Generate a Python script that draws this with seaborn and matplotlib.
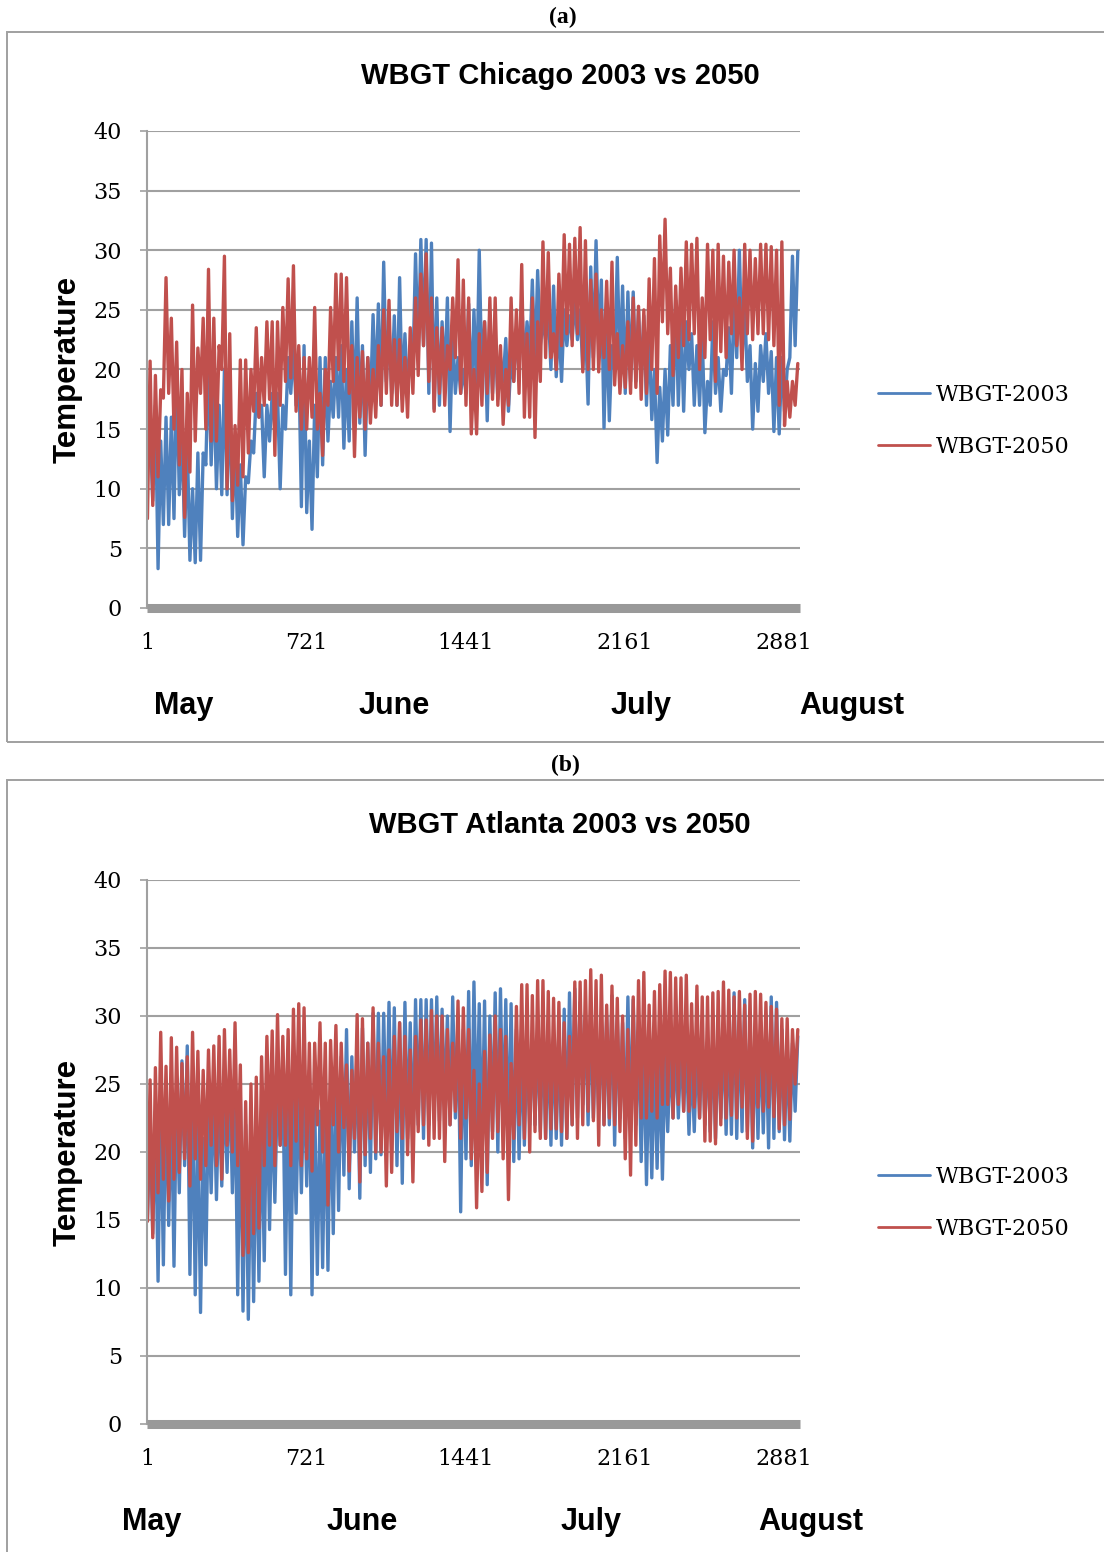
import numpy as np
import pandas as pd
import matplotlib.pyplot as plt
import seaborn as sns
from matplotlib.patches import Rectangle
from matplotlib.lines import Line2D

# daily highs / lows (one pair per day, May 1 - Aug 31)
chi03_hi = [15, 17, 14, 16, 16, 20, 15, 14, 10, 13,
            13, 21, 19, 17, 20, 18, 14, 12, 11, 14,
            18, 17, 17, 18, 18, 17, 21, 22, 21, 22,
            14, 17, 21, 21, 19, 21, 22, 20, 24, 26,
            22, 21, 24.6, 25.5, 29, 24, 24.5, 27.7, 23, 22,
            29.7, 30.9, 30.9, 30.6, 26, 24, 26, 23, 21, 20,
            25.5,
            25, 30, 24, 24.5, 23, 21, 22.6, 21, 23, 26,
            24, 27.5, 28.3, 24, 25, 27, 24, 25, 24.5, 26,
            25, 24, 28.6, 30.8, 27.5, 24, 22, 29.4, 27, 26.5,
            26.5, 25, 24.5, 23, 20, 18.5, 20, 22, 25.8, 24,
            24, 23, 22, 23, 19, 24, 21, 20, 23.5, 26,
            30, 25.5, 22, 20.5, 22, 23, 21.5, 21, 21, 20, 29.5, 29.9]
chi03_lo = [12, 9, 3.3, 7, 7, 7.5, 9.5, 6, 4, 3.8,
            4, 12, 12, 10, 9.5, 9.5, 7.5, 6, 5.3, 10.5,
            13, 16, 11, 14, 15, 10, 15, 18, 17, 8.5,
            8, 6.6, 11, 12, 14, 16, 16, 13.4, 14, 16,
            15.5, 12.8, 17, 18, 17, 19, 18, 17, 17.5, 18,
            20, 21, 22, 18, 16.7, 17, 19, 14.8, 18, 18,
            18,
            17.3, 18, 19, 15.7, 18, 17.5, 19, 16.5, 19, 20,
            20, 21, 20, 22, 22.5, 20, 19.4, 19, 22, 22.5,
            22.5, 20, 17.1, 21, 22, 15.1, 15.7, 20, 20, 18,
            19, 19, 19, 17, 15.8, 12.2, 14, 14.5, 17, 17,
            16.5, 20, 17, 17, 14.7, 17, 18, 16.5, 19.5, 18,
            21, 21, 19, 15, 16.5, 19, 18, 14.8, 14.6, 16.5, 21, 22]
chi50_hi = [20.7, 19.5, 18.3, 27.7, 24.3, 22.3, 20, 18, 25.4, 21.8,
            24.3, 28.4, 24.3, 22, 29.5, 23, 15.3, 20.8, 20.8, 20,
            23.5, 21, 24, 24, 24, 25.2, 27.6, 28.7, 22, 21,
            21, 25.2, 18, 20, 25.2, 28, 28, 27.7, 22, 21,
            21.5, 21, 20, 22, 25, 25.8, 22.5, 22.5, 21, 23.5,
            26, 28, 29.7, 26, 23.5, 23.5, 22, 26, 29.2, 27.5,
            26,
            20, 23, 24, 26, 26, 22, 20, 26, 25, 28.8,
            23, 26, 24, 30.7, 29.8, 23, 28, 31.3, 30.5, 31,
            31.9, 30.8, 27.5, 28, 25, 27.4, 29, 23, 22, 24,
            26, 25.3, 25, 27.6, 29.3, 31.2, 32.6, 28.5, 27, 28.5,
            30.7, 30.5, 31, 26, 30.5, 30, 30.5, 29.5, 29, 30,
            26, 30.5, 30, 29.3, 30.5, 30.5, 30.3, 30, 30.7, 19, 19, 20.5]
chi50_lo = [7.5, 8.6, 11, 17.6, 18, 15, 12, 7.6, 11.4, 14,
            18, 15, 14, 14, 20, 10, 9, 10.3, 11, 13,
            16.5, 16, 17, 17.5, 12.8, 17, 19, 19.3, 16.5, 15,
            15, 16, 15, 12.8, 17, 19, 20, 19, 18, 12.7,
            16, 15, 15.5, 16, 17, 18, 17, 17, 16.5, 16,
            18, 19.5, 22, 19, 16.5, 18, 17, 20, 21, 18,
            17,
            14.6, 14.6, 17, 18, 17.5, 17, 15.4, 17, 19, 18,
            16, 16, 14.3, 19, 21, 21, 20, 22, 23, 22,
            23, 19.8, 20, 20, 19.8, 21, 20, 18.7, 18, 18.5,
            18, 18.5, 17.5, 18, 20, 18, 24, 23, 19.5, 21,
            22, 22.5, 23, 20, 21, 22.5, 19, 21.5, 21, 23,
            22, 20, 23, 22.5, 23, 23, 22.5, 22, 17, 15.3, 16, 17]

atl03_hi = [22, 23, 24, 25, 24, 25, 26.7, 27.8, 25, 22,
            21, 24, 25, 25, 25, 26, 25, 24, 22, 21,
            22, 23, 25, 24, 25, 26, 25, 24, 25, 26,
            26, 24, 23, 24, 25, 26, 27, 29, 27, 28,
            29.1, 28, 30.2, 30.2, 30.2, 31, 30.6, 29.5, 31, 29.5,
            31.2, 31.2, 31.2, 31.2, 31.4, 30.5, 30, 31.4, 30, 29,
            31.8,
            32.5, 30.9, 31.1, 30, 31.7, 32, 31.2, 30.9, 29, 28,
            28, 28.5, 29, 29, 28.5, 28.5, 29, 30.5, 31.7, 32,
            31, 30, 30.5, 29, 29.5, 30, 31.5, 30, 29.5, 31.4,
            31.2, 29, 28, 27, 27, 27, 27, 27.5, 28, 28,
            28, 27, 28, 28.5, 28, 28.5, 28.5, 29, 29, 31.7,
            30, 31.2, 29, 28.5, 29, 28.5, 31.4, 31, 29, 28, 28, 28.5]
atl03_lo = [15, 14, 10.5, 11.7, 14.6, 11.6, 17, 19, 11, 9.5,
            8.2, 11.7, 17, 16.5, 17.5, 18.5, 17, 9.5, 8.3, 7.7,
            9, 10.5, 12, 14.3, 16.3, 20.5, 11, 9.5, 15.5, 17,
            17.5, 9.5, 11, 11.5, 11.3, 14, 15.7, 18.3, 17.3, 20,
            16.6, 19, 18.5, 19.5, 19.8, 21, 20, 19, 17.7, 21,
            20, 22, 21, 22, 22.5, 22.3, 23, 22, 22.5, 15.6,
            19.5,
            19, 21.5, 20, 17.6, 21.5, 20, 21.5, 20, 19.3, 19.5,
            20.5, 22, 22, 21.5, 21, 20.5, 21, 20.5, 21, 22,
            22.5, 23.5, 22, 22.5, 23, 22, 22, 20.5, 22.5, 21,
            21.5, 22, 19.3, 17.6, 18.1, 18.8, 18, 21.5, 22.5, 22.5,
            23, 21.3, 21.5, 22.5, 22, 21.5, 21, 22.5, 21.3, 21.3,
            21, 21.5, 21.5, 20.3, 21, 21.4, 20.3, 21, 21.5, 20.9, 20.8, 23]
atl50_hi = [25.3, 26.2, 28.8, 26.3, 28.4, 27.7, 26.5, 27, 28.8, 27.4,
            26, 27.5, 27.8, 28.5, 29, 27.5, 29.5, 26.4, 23.7, 25,
            25.5, 27, 28.5, 28.9, 30.1, 28.5, 29, 30.5, 30.9, 30.6,
            28, 28, 29.5, 28, 28.2, 29.3, 28, 26.4, 26, 30.1,
            29.8, 28, 30.6, 28, 27, 27.5, 28.5, 29.5, 28.5, 27.5,
            28.5, 29.7, 29.7, 30.4, 30, 30, 29, 28, 31.1, 30.6,
            29,
            26, 25, 27.4, 28.6, 30, 29, 28.5, 26.5, 30.7, 32.3,
            32.3, 31.5, 32.6, 32.6, 31.8, 31.3, 31, 29.5, 28.5, 32.5,
            32.5, 32.6, 33.4, 32.6, 33, 30.8, 32.2, 31.3, 30, 29,
            31.4, 32.6, 33.2, 30.8, 31.8, 32.3, 33.3, 33.2, 32.8, 32.8,
            33, 30.9, 32.2, 31.4, 31.4, 31.7, 31.8, 32.5, 31.9, 31.4,
            31.8, 30.8, 31.6, 31.8, 31.6, 31, 30.7, 30.5, 29.8, 29.8, 29, 29]
atl50_lo = [14.9, 13.7, 17, 18, 16.4, 18, 18.5, 19.5, 17.5, 19.5,
            18, 19, 20.5, 19, 18, 20.5, 20, 19, 12.4, 12.6,
            14, 14.4, 19, 20.5, 19, 20.5, 20.5, 19, 20.8, 19,
            19.5, 18.6, 22, 20, 16.1, 22, 20, 21.8, 18.6, 21,
            17.8, 19.8, 21, 20, 20, 17.5, 18.5, 21.5, 21, 19.8,
            17.8, 21.5, 22, 20.5, 21, 21, 19.3, 22, 23, 21,
            22.5,
            19.5, 15.9, 17.1, 18.5, 21, 21.5, 19.5, 16.5, 21, 22,
            21, 20, 21.5, 21, 21, 21.7, 21.7, 21.5, 21, 22,
            21, 22, 23, 22.3, 20.5, 22, 22.5, 22, 21.5, 19.5,
            18.3, 20.5, 22.5, 22.5, 23, 22.5, 23.5, 23.5, 22.5, 23.5,
            23, 23, 23.3, 22.5, 20.8, 20.8, 20.6, 22, 22.5, 22.7,
            22.5, 23.3, 21, 20.8, 23.3, 23, 23.3, 22.6, 21.7, 22, 22.4, 25]

series_names = ['WBGT-2003', 'WBGT-2050']
colors = ['#4F81BD', '#C0504D']
tick_hours = [1, 721, 1441, 2161, 2881]
months = ['May', 'June', 'July', 'August']


def to_frame(hi, lo, name):
    days = np.arange(len(hi))
    hours = np.concatenate([days * 24 + 3, days * 24 + 15])
    vals = np.concatenate([lo, hi])
    df = pd.DataFrame({'Hour': hours, 'Temperature': vals, 'Series': name})
    return df.sort_values('Hour')


sns.set_style('white')
plt.rcParams['font.family'] = ['DejaVu Serif']
plt.rcParams['text.color'] = 'black'
plt.rcParams['xtick.color'] = 'black'
plt.rcParams['ytick.color'] = 'black'

W, H = 1104, 1552
fig = plt.figure(figsize=(W / 100, H / 100), dpi=100)

panels = [
    dict(tag='(a)', tag_y=17, box=(32, 742), ax=(131, 608), title='WBGT Chicago 2003 vs 2050',
         title_y=76, data=[(chi03_hi, chi03_lo), (chi50_hi, chi50_lo)], leg_y=421,
         month_x=[184, 394, 641, 852], month_y=706, tag_x=563),
    dict(tag='(b)', tag_y=765, box=(780, 1570), ax=(880, 1424), title='WBGT Atlanta 2003 vs 2050',
         title_y=825, data=[(atl03_hi, atl03_lo), (atl50_hi, atl50_lo)], leg_y=1203,
         month_x=[152, 362, 591, 811], month_y=1522, tag_x=565),
]

for p in panels:
    top, bot = p['box']
    fig.add_artist(Rectangle((7 / W, 1 - bot / H), 1.2, (bot - top) / H, transform=fig.transFigure,
                             fill=False, edgecolor='#a0a0a0', lw=1.4))
    fig.text(p['tag_x'] / W, 1 - p['tag_y'] / H, p['tag'], ha='center', va='center',
             family='Liberation Serif', fontweight='bold', fontsize=17)

    a_top, a_bot = p['ax']
    ax = fig.add_axes([147 / W, 1 - a_bot / H, 653 / W, (a_bot - a_top) / H])
    df = pd.concat([to_frame(hi, lo, n) for (hi, lo), n in zip(p['data'], series_names)])
    sns.lineplot(data=df, x='Hour', y='Temperature', hue='Series', palette=colors,
                 estimator=None, sort=True, linewidth=2.4, legend=False, ax=ax)

    ax.set_xlim(1, 2953)
    ax.set_ylim(0, 40)
    ax.set_yticks(range(0, 41, 5))
    ax.set_xticks(tick_hours)
    ax.set_xticklabels([str(t) for t in tick_hours])
    ax.yaxis.grid(True, color='#a0a0a0', lw=1.5)
    ax.set_axisbelow(True)
    for s in ['top', 'right', 'bottom']:
        ax.spines[s].set_visible(False)
    ax.spines['left'].set_color('#a0a0a0')
    ax.spines['left'].set_linewidth(1.5)
    ax.tick_params(axis='y', left=True, length=5, width=1.2, color='#a0a0a0',
                   labelcolor='black', pad=13, labelsize=16)
    ax.tick_params(axis='x', bottom=False, length=0, pad=17, labelsize=16, labelcolor='black')
    ax.axhline(0, color='#999999', lw=6.5, clip_on=False, zorder=3, solid_capstyle='butt')
    ax.set_xlabel('')
    ax.set_ylabel('')

    yc = (a_top + a_bot) / 2
    fig.text(68 / W, 1 - yc / H, 'Temperature', rotation=90, ha='center', va='center',
             family='Liberation Sans', fontweight='bold', fontsize=22.5)
    fig.text(560 / W, 1 - p['title_y'] / H, p['title'], ha='center', va='center',
             family='Liberation Sans', fontweight='bold', fontsize=21)
    for mx, m in zip(p['month_x'], months):
        fig.text(mx / W, 1 - p['month_y'] / H, m, ha='center', va='center',
                 family='Liberation Sans', fontweight='bold', fontsize=22)

    handles = [Line2D([], [], color=c, lw=2.0) for c in colors]
    fig.legend(handles, series_names, loc='center left', bbox_to_anchor=(878 / W, 1 - p['leg_y'] / H),
               bbox_transform=fig.transFigure, frameon=False, borderaxespad=0, borderpad=0,
               handlelength=2.35, handletextpad=0.25, labelspacing=1.35, fontsize=16)

fig.savefig('out.png', dpi=100)
